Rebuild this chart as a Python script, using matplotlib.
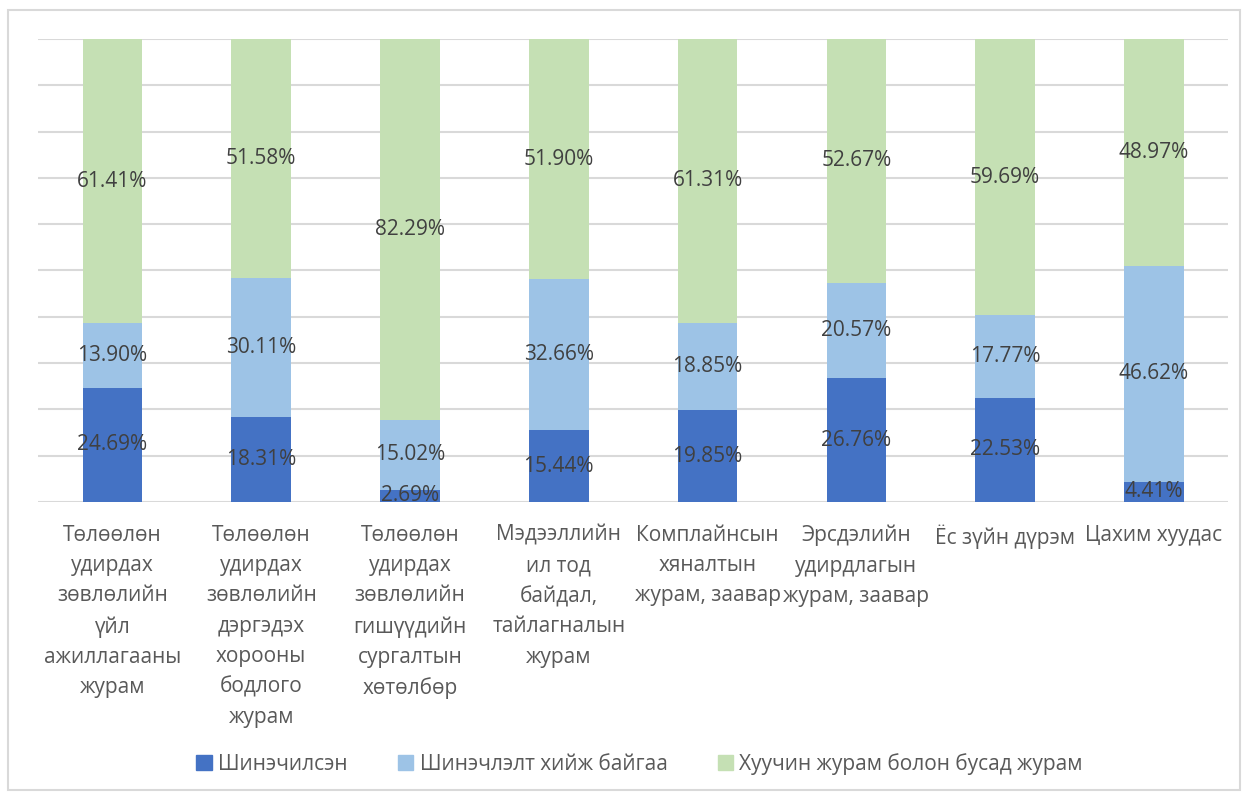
"""100% stacked bar chart of policy renewal status by document type."""

import matplotlib
matplotlib.use("Agg")
import matplotlib.pyplot as plt
import matplotlib.patches as mpatches
import numpy as np

plt.rcParams['font.family'] = ['Open Sans', 'DejaVu Sans']

categories = [
    "Төлөөлөн\nудирдах\nзөвлөлийн\nүйл\nажиллагааны\nжурам",
    "Төлөөлөн\nудирдах\nзөвлөлийн\nдэргэдэх\nхорооны\nбодлого\nжурам",
    "Төлөөлөн\nудирдах\nзөвлөлийн\nгишүүдийн\nсургалтын\nхөтөлбөр",
    "Мэдээллийн\nил тод\nбайдал,\nтайлагналын\nжурам",
    "Комплайнсын\nхяналтын\nжурам, заавар",
    "Эрсдэлийн\nудирдлагын\nжурам, заавар",
    "Ёс зүйн дүрэм",
    "Цахим хуудас",
]
series_names = ["Шинэчилсэн", "Шинэчлэлт хийж байгаа", "Хуучин журам болон бусад журам"]
renewed = [24.69, 18.31, 2.69, 15.44, 19.85, 26.76, 22.53, 4.41]
in_progress = [13.90, 30.11, 15.02, 32.66, 18.85, 20.57, 17.77, 46.62]
old_other = [61.41, 51.58, 82.29, 51.90, 61.31, 52.67, 59.69, 48.97]

colors = ["#4472C4", "#9DC3E6", "#C5E0B4"]


def main() -> None:
    fig = plt.figure(figsize=(12.47, 7.94), dpi=100)
    ax = fig.add_axes([0.0305, 0.3678, 0.9545, 0.5831])

    x = np.arange(len(categories))
    bottom = np.zeros(len(categories))
    for vals, color, name in zip([renewed, in_progress, old_other], colors, series_names):
        vals = np.array(vals)
        ax.bar(x, vals, width=0.4, bottom=bottom, color=color, label=name, zorder=2)
        for xi, b, v in zip(x, bottom, vals):
            ax.text(xi, b + v / 2, f"{v:.2f}%", ha="center", va="center",
                    fontsize=15, color="#404040", zorder=3)
        bottom += vals

    ax.set_xlim(-0.5, len(categories) - 0.5)
    ax.set_ylim(0, 100)
    ax.set_yticks(np.arange(0, 101, 10))
    ax.yaxis.grid(True, color="#D9D9D9", linewidth=1.5, zorder=0)
    ax.set_axisbelow(True)
    ax.tick_params(axis="y", left=False, labelleft=False)
    ax.tick_params(axis="x", bottom=False, pad=13)
    ax.set_xticks(x)
    ax.set_xticklabels(categories, fontsize=15, color="#595959", linespacing=1.58, va="top")
    for side in ["top", "right", "left", "bottom"]:
        ax.spines[side].set_visible(False)

    handles = [mpatches.Patch(color=c) for c in colors]
    fig.legend(handles, series_names, loc="center", bbox_to_anchor=(0.513, 0.038), ncol=3,
               frameon=False, fontsize=15, handlelength=0.75, handleheight=0.75,
               handletextpad=0.3, columnspacing=2.4, labelcolor="#595959")

    fig.patches.append(mpatches.Rectangle((8 / 1247, 4 / 794), 1232 / 1247, 780 / 794,
                                          transform=fig.transFigure, fill=False,
                                          edgecolor="#D9D9D9", linewidth=1.5))

    fig.savefig("out.png", dpi=100)


if __name__ == "__main__":
    main()
